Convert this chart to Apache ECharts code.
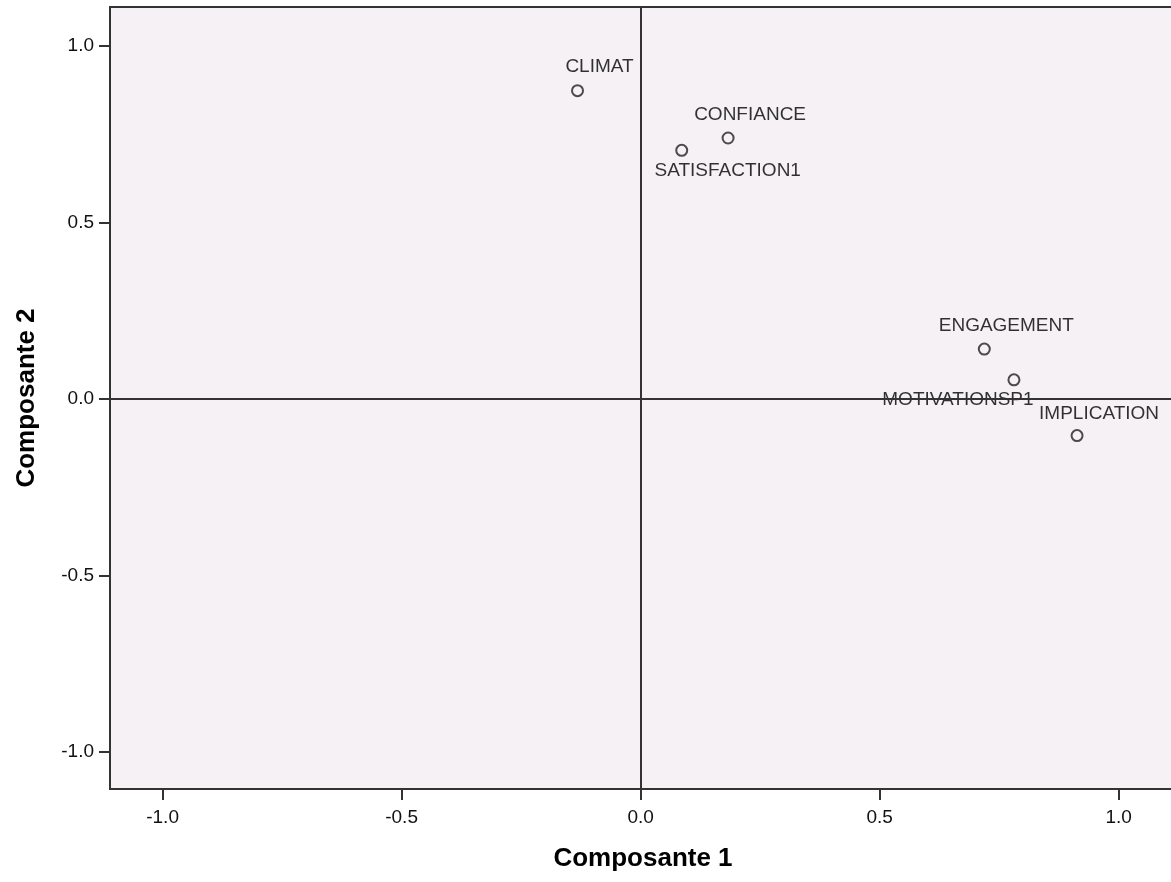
<!DOCTYPE html>
<html>
<head>
<meta charset="utf-8">
<script src="https://cdn.jsdelivr.net/npm/echarts@6/dist/echarts.min.js"></script>
<style>
html,body{margin:0;padding:0;background:#fff;overflow:hidden;}
#chart{width:1171px;height:882px;}
</style>
</head>
<body>
<div id="chart"></div>
<script>
// Data
var names = ['CLIMAT', 'CONFIANCE', 'SATISFACTION1', 'ENGAGEMENT', 'MOTIVATIONSP1', 'IMPLICATION'];
var comp1 = [-0.132, 0.183, 0.086, 0.719, 0.781, 0.913];
var comp2 = [0.873, 0.739, 0.704, 0.141, 0.054, -0.104];
var xTicks = [-1.0, -0.5, 0.0, 0.5, 1.0];
var yTicks = [-1.0, -0.5, 0.0, 0.5, 1.0];
var xTitle = 'Composante 1';
var yTitle = 'Composante 2';

// Label placement (style only)
var labelOffsets = [[22, -24], [22, -23], [46, 20], [22, -23], [-56, 20], [22, -22]];

var FONT = '"Liberation Sans", Arial, sans-serif';

var points = names.map(function (n, i) {
  return {
    name: n,
    value: [comp1[i], comp2[i]],
    label: { offset: labelOffsets[i] }
  };
});

var chart = echarts.init(document.getElementById('chart'), null, { renderer: 'canvas' });
chart.setOption({
  animation: false,
  backgroundColor: '#ffffff',
  grid: {
    left: 110, top: 7, right: -5, bottom: 93,
    outerBoundsMode: 'none',
    containLabel: false,
    show: true,
    backgroundColor: '#F5F1F5',
    borderColor: '#333',
    borderWidth: 2
  },
  xAxis: {
    type: 'value',
    min: -1.11, max: 1.12,
    splitLine: { show: false },
    axisLine: { show: false, onZero: false },
    axisTick: { show: true, inside: false, length: 11, customValues: xTicks, lineStyle: { color: '#333', width: 2 } },
    axisLabel: {
      customValues: xTicks,
      margin: 19,
      color: '#111',
      fontFamily: FONT,
      fontSize: 19,
      formatter: function (v) { return v.toFixed(1); }
    },
    name: xTitle,
    nameLocation: 'middle',
    nameGap: 57,
    nameTextStyle: { fontFamily: FONT, fontSize: 26, fontWeight: 'bold', color: '#000' }
  },
  yAxis: {
    type: 'value',
    min: -1.105, max: 1.110,
    splitLine: { show: false },
    axisLine: { show: false, onZero: false },
    axisTick: { show: true, inside: false, length: 11, customValues: yTicks, lineStyle: { color: '#333', width: 2 } },
    axisLabel: {
      customValues: yTicks,
      margin: 16,
      color: '#111',
      fontFamily: FONT,
      fontSize: 19,
      formatter: function (v) { return v.toFixed(1); }
    },
    name: yTitle,
    nameLocation: 'middle',
    nameGap: 70,
    nameTextStyle: { fontFamily: FONT, fontSize: 26, fontWeight: 'bold', color: '#000' }
  },
  series: [{
    type: 'scatter',
    data: points,
    symbol: 'circle',
    symbolSize: 11,
    itemStyle: { color: 'rgba(0,0,0,0)', borderColor: '#222', borderWidth: 2 },
    emphasis: { disabled: true },
    label: {
      show: true,
      position: 'inside',
      formatter: '{b}',
      color: '#000',
      fontFamily: FONT,
      fontSize: 19
    },
    markLine: {
      silent: true,
      symbol: 'none',
      label: { show: false },
      lineStyle: { color: '#333', width: 2, type: 'solid' },
      data: [{ xAxis: 0 }, { yAxis: 0 }]
    }
  }]
});
</script>
</body>
</html>
